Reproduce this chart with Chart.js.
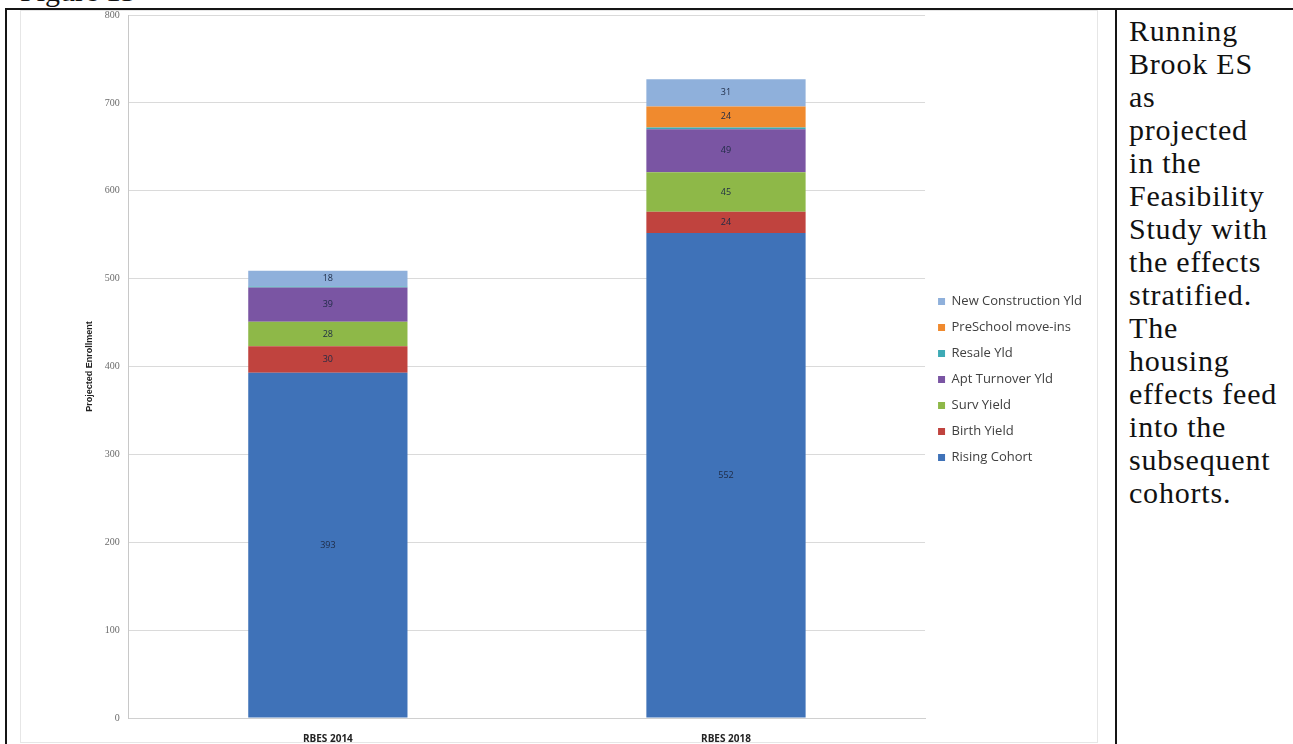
<!DOCTYPE html>
<html>
<head>
<meta charset="utf-8">
<script src="https://cdn.jsdelivr.net/npm/chart.js@4"></script>
<style>
body{margin:0;background:#fff;width:1293px;height:744px;overflow:hidden;position:relative;font-family:"Liberation Serif",serif;color:#111;}
.ln{position:absolute;background:#151515;}
#fig{position:absolute;left:20px;top:-26px;font-size:30px;line-height:33px;white-space:nowrap;}
#frame{position:absolute;left:20px;top:10px;width:1078px;height:733px;border:1px solid #e6e6e6;box-sizing:border-box;}
#wrap{position:absolute;left:20px;top:0px;width:1078px;height:760px;}
#note{position:absolute;left:1129px;top:14px;font-size:30px;line-height:33px;letter-spacing:0.8px;white-space:nowrap;}
</style>
</head>
<body>
<div id="fig">Figure 13</div>
<div id="frame"></div>
<div id="wrap"><canvas id="barChart" width="1078" height="760"></canvas></div>
<div class="ln" style="left:5px;top:8px;width:1288px;height:2px"></div>
<div class="ln" style="left:5px;top:8px;width:2px;height:736px"></div>
<div class="ln" style="left:1115px;top:8px;width:2px;height:736px"></div>
<div id="note">Running<br>Brook ES<br>as<br>projected<br>in the<br>Feasibility<br>Study with<br>the effects<br>stratified.<br>The<br>housing<br>effects feed<br>into the<br>subsequent<br>cohorts.</div>
<script>
// values (enrollment, students)
var categories = ['RBES 2014', 'RBES 2018'];
var risingCohort = [393, 552];
var birthYield = [30, 24];
var survYield = [28, 45];
var aptTurnover = [39, 49];
var resaleYld = [1, 2];
var preschoolMoveIns = [0, 24];
var newConstruction = [18, 31];
var yMin = 0, yMax = 800, yStep = 100;

var ctx = document.getElementById('barChart').getContext('2d');

// small value labels in the middle of each segment
var segmentLabels = {
    id: 'segmentLabels',
    afterDatasetsDraw: function(chart) {
        var c = chart.ctx;
        c.save();
        c.font = '9px "Open Sans"';
        c.fillStyle = '#1e2b45';
        c.textAlign = 'center';
        c.textBaseline = 'middle';
        chart.data.datasets.forEach(function(ds, i) {
            chart.getDatasetMeta(i).data.forEach(function(bar, j) {
                var v = ds.data[j];
                if (v < 5) return;
                var p = bar.getCenterPoint();
                c.fillText(v, p.x, p.y);
            });
        });
        c.restore();
    }
};

var myChart = new Chart(ctx, {
    type: 'bar',
    data: {
        labels: categories,
        datasets: [
            {label: 'Rising Cohort', data: risingCohort, backgroundColor: '#3F72B8'},
            {label: 'Birth Yield', data: birthYield, backgroundColor: '#C0433E'},
            {label: 'Surv Yield', data: survYield, backgroundColor: '#8EB848'},
            {label: 'Apt Turnover Yld', data: aptTurnover, backgroundColor: '#7A55A3'},
            {label: 'Resale Yld', data: resaleYld, backgroundColor: '#3DAAB5'},
            {label: 'PreSchool move-ins', data: preschoolMoveIns, backgroundColor: '#F08A2E'},
            {label: 'New Construction Yld', data: newConstruction, backgroundColor: '#8FB0DB'}
        ]
    },
    options: {
        responsive: false,
        animation: false,
        layout: {padding: {left: 64, right: 6, top: 3, bottom: 0}},
        datasets: {bar: {categoryPercentage: 1, barPercentage: 0.4, borderWidth: 0}},
        plugins: {
            tooltip: {enabled: false},
            legend: {
                position: 'right',
                align: 'start',
                reverse: true,
                // empty title only pushes the legend rows down to where they sit in the scan
                title: {display: true, text: '', font: {size: 10}, padding: {top: 267, bottom: 0}},
                labels: {
                    boxWidth: 7,
                    boxHeight: 7,
                    padding: 13,
                    color: '#404040',
                    font: {family: '"Open Sans"', size: 13}
                }
            }
        },
        scales: {
            x: {
                stacked: true,
                grid: {display: false, drawTicks: false},
                border: {color: '#d0d0d0'},
                ticks: {color: '#222', padding: 15, font: {family: '"Open Sans"', size: 10, weight: 'bold'}}
            },
            y: {
                stacked: true,
                min: yMin,
                max: yMax,
                grid: {color: '#dadada', drawTicks: false},
                border: {color: '#c8c8c8'},
                ticks: {stepSize: yStep, padding: 9, color: '#6b6b6b', font: {family: '"Liberation Serif"', size: 10}},
                title: {display: true, text: 'Projected Enrollment', color: '#222', padding: {top: 0, bottom: 1}, font: {family: '"Liberation Sans"', size: 9, weight: 'bold'}}
            }
        }
    },
    plugins: [segmentLabels]
});
</script>
</body>
</html>
